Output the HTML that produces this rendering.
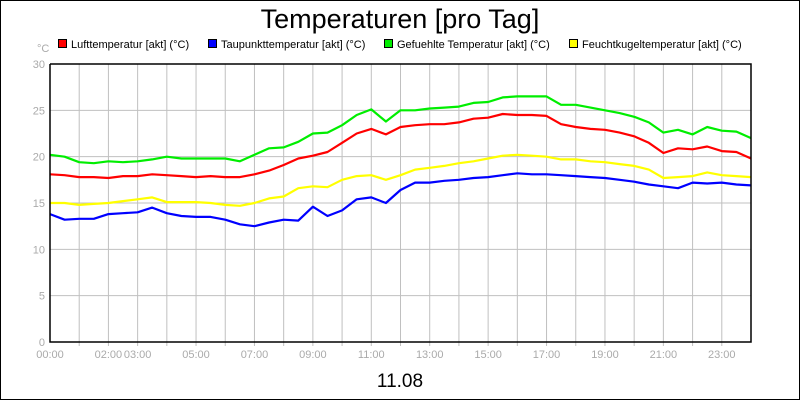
<!DOCTYPE html>
<html><head><meta charset="utf-8"><style>
body{margin:0;background:#fff}
svg{display:block;font-family:"Liberation Sans",sans-serif}
</style></head><body>
<svg width="800" height="400">
<rect x="0.5" y="0.5" width="799" height="399" fill="#fff" stroke="#000"/>
<text x="400" y="28" font-size="27" text-anchor="middle">Temperaturen [pro Tag]</text>
<g id="legend"></g>
<text x="37" y="52" font-size="11" fill="#aaa">°C</text>
<g id="grid"></g>
<g id="series"></g>
<g id="axes"></g>
<text x="400" y="387" font-size="19" text-anchor="middle">11.08</text>
</svg>
<script>
const hours=[0,0.5,1,1.5,2,2.5,3,3.5,4,4.5,5,5.5,6,6.5,7,7.5,8,8.5,9,9.5,10,10.5,11,11.5,12,12.5,13,13.5,14,14.5,15,15.5,16,16.5,17,17.5,18,18.5,19,19.5,20,20.5,21,21.5,22,22.5,23,23.5,24];
const luft=[18.1,18.0,17.8,17.8,17.7,17.9,17.9,18.1,18.0,17.9,17.8,17.9,17.8,17.8,18.1,18.5,19.1,19.8,20.1,20.5,21.5,22.5,23.0,22.4,23.2,23.4,23.5,23.5,23.7,24.1,24.2,24.6,24.5,24.5,24.4,23.5,23.2,23.0,22.9,22.6,22.2,21.5,20.4,20.9,20.8,21.1,20.6,20.5,19.8];
const tau=[13.8,13.2,13.3,13.3,13.8,13.9,14.0,14.5,13.9,13.6,13.5,13.5,13.2,12.7,12.5,12.9,13.2,13.1,14.6,13.6,14.2,15.4,15.6,15.0,16.4,17.2,17.2,17.4,17.5,17.7,17.8,18.0,18.2,18.1,18.1,18.0,17.9,17.8,17.7,17.5,17.3,17.0,16.8,16.6,17.2,17.1,17.2,17.0,16.9];
const gef=[20.2,20.0,19.4,19.3,19.5,19.4,19.5,19.7,20.0,19.8,19.8,19.8,19.8,19.5,20.2,20.9,21.0,21.6,22.5,22.6,23.4,24.5,25.1,23.8,25.0,25.0,25.2,25.3,25.4,25.8,25.9,26.4,26.5,26.5,26.5,25.6,25.6,25.3,25.0,24.7,24.3,23.7,22.6,22.9,22.4,23.2,22.8,22.7,22.0];
const feucht=[15.0,15.0,14.8,14.9,15.0,15.2,15.4,15.6,15.1,15.1,15.1,15.0,14.8,14.7,15.0,15.5,15.7,16.6,16.8,16.7,17.5,17.9,18.0,17.5,18.0,18.6,18.8,19.0,19.3,19.5,19.8,20.1,20.2,20.1,20.0,19.7,19.7,19.5,19.4,19.2,19.0,18.6,17.7,17.8,17.9,18.3,18.0,17.9,17.8];
const yTicks=[0,5,10,15,20,25,30];
const xLabelHours=[0,2,3,5,7,9,11,13,15,17,19,21,23];
const seriesNames=["Lufttemperatur [akt] (°C)","Taupunkttemperatur [akt] (°C)","Gefuehlte Temperatur [akt] (°C)","Feuchtkugeltemperatur [akt] (°C)"];
const seriesColors=["#ff0000","#0000ff","#00ee00","#ffff00"];
const seriesData=[luft,tau,gef,feucht];

const NS="http://www.w3.org/2000/svg";
const X0=50,X1=751,Y0=342,Y1=64;
const xs=h=>X0+(X1-X0)*h/24;
const ys=v=>Y0-(Y0-Y1)*v/30;
function mk(tag,attrs,parent){const e=document.createElementNS(NS,tag);for(const k in attrs)e.setAttribute(k,attrs[k]);parent.appendChild(e);return e;}
const grid=document.getElementById('grid'),axes=document.getElementById('axes'),ser=document.getElementById('series'),leg=document.getElementById('legend');
for(let h=1;h<24;h++){const l=mk('line',{x1:xs(h),x2:xs(h),y1:Y1,y2:Y0+4,stroke:'#c0c0c0'},grid);

}
yTicks.forEach(v=>{if(v>0&&v<30){const l=mk('line',{x1:X0,x2:X1,y1:ys(v),y2:ys(v),stroke:'#c0c0c0'},grid);

}
const t=mk('text',{x:X0-5,y:ys(v)+4,'font-size':11,fill:'#aaa','text-anchor':'end'},axes);t.textContent=v;

});
xLabelHours.forEach(h=>{const t=mk('text',{x:xs(h),y:Y0+16,'font-size':11,fill:'#aaa','text-anchor':'middle'},axes);t.textContent=String(h).padStart(2,'0')+':00';

});
const ax=mk('path',{d:`M${X0} ${Y1}V${Y0}H${X1}V${Y1}H${X0}`,stroke:'#000','stroke-width':1.5,fill:'none'},axes);


const order=[2,0,3,1];
order.forEach(i=>{const d=seriesData[i].map((v,j)=>(j?'L':'M')+xs(hours[j]).toFixed(1)+' '+ys(v).toFixed(1)).join('');
const p=mk('path',{d:d,stroke:seriesColors[i],'stroke-width':2.2,fill:'none','stroke-linejoin':'round'},ser);

});
const legX=[58,208,384,569];
seriesNames.forEach((n,i)=>{const g=mk('g',{},leg);


mk('rect',{x:legX[i]+0.5,y:39.5,width:8,height:8,fill:seriesColors[i],stroke:'#000'},g);
const t=mk('text',{x:legX[i]+13,y:48,'font-size':11},g);t.textContent=n;});
</script>
</body></html>
